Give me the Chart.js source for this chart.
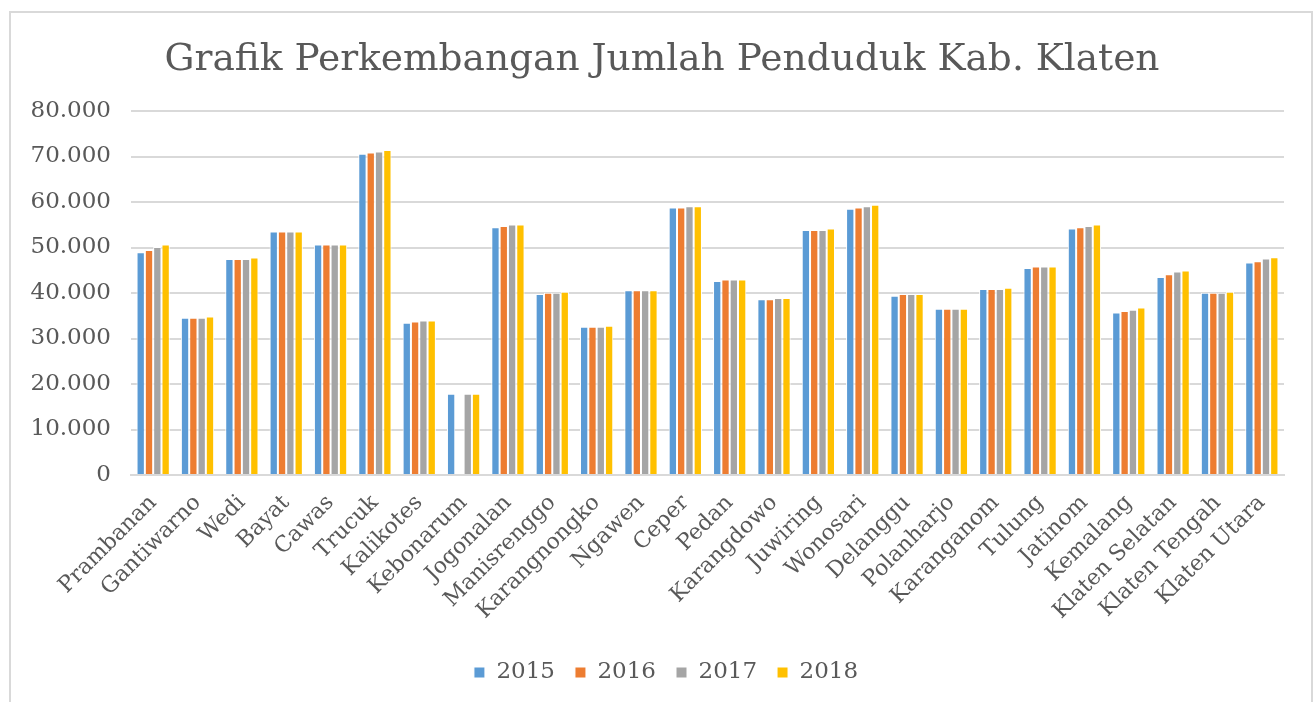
<!DOCTYPE html>
<html>
<head>
<meta charset="utf-8">
<script src="https://cdn.jsdelivr.net/npm/chart.js@4/dist/chart.umd.min.js"></script>
<style>
  body { margin: 0; background: #fff; }
  #wrap { width: 1315px; height: 702px; position: relative; }
</style>
</head>
<body>
<div id="wrap"><canvas id="chart"></canvas></div>
<script>
const kecamatan = ['Prambanan', 'Gantiwarno', 'Wedi', 'Bayat', 'Cawas', 'Trucuk', 'Kalikotes',
    'Kebonarum', 'Jogonalan', 'Manisrenggo', 'Karangnongko', 'Ngawen', 'Ceper', 'Pedan',
    'Karangdowo', 'Juwiring', 'Wonosari', 'Delanggu', 'Polanharjo', 'Karanganom', 'Tulung',
    'Jatinom', 'Kemalang', 'Klaten Selatan', 'Klaten Tengah', 'Klaten Utara'];

const pend2015 = [48950, 34570, 47490, 53500, 50640, 70600, 33470, 17830, 54460, 39780, 32590, 40590, 58790,
    42640, 38610, 53870, 58500, 39410, 36550, 40880, 45500, 54170, 35740, 43520, 40070, 46680];
const pend2016 = [49470, 34570, 47490, 53500, 50640, 70900, 33760, null, 54750, 40070, 32590, 40590, 58790,
    42940, 38610, 53870, 58790, 39780, 36550, 40880, 45800, 54460, 36040, 44110, 40070, 46970];
const pend2017 = [50130, 34570, 47490, 53500, 50640, 71120, 33980, 17830, 55050, 40070, 32590, 40590, 59080,
    42940, 38900, 53870, 59080, 39780, 36550, 40880, 45800, 54750, 36330, 44700, 40070, 47560];
const pend2018 = [50640, 34860, 47780, 53500, 50640, 71410, 33980, 17830, 55050, 40290, 32810, 40590, 59080,
    42940, 38900, 54170, 59380, 39780, 36550, 41170, 45800, 55050, 36840, 44920, 40290, 47850];

const yMax = 80000;
const yStep = 10000;

const fontFamily = '"DejaVu Serif", "Liberation Serif", serif';
const textColor = '#595959';

// thousands with a dot, like the original sheet
function formatRibuan(v) {
    return String(v).replace(/\B(?=(\d{3})+(?!\d))/g, '.');
}

// white background and the grey frame around the chart
const frame = {
    id: 'frame',
    afterLayout(chart) {
        // title and legend sit a bit right of the centre in the original
        chart.titleBlock.left += 20;
        chart.titleBlock.right += 20;
        chart.legend.left += 24;
        chart.legend.right += 24;
    },
    beforeDraw(chart) {
        const ctx = chart.ctx;
        ctx.save();
        ctx.fillStyle = '#fff';
        ctx.fillRect(0, 0, chart.width, chart.height);
        ctx.strokeStyle = '#d9d9d9';
        ctx.lineWidth = 2;
        ctx.strokeRect(10, 12, 1302, 700);
        ctx.restore();
    }
};

new Chart(document.getElementById('chart'), {
    type: 'bar',
    data: {
        labels: kecamatan,
        datasets: [
            { label: '2015', data: pend2015, backgroundColor: '#5B9BD5' },
            { label: '2016', data: pend2016, backgroundColor: '#ED7D31' },
            { label: '2017', data: pend2017, backgroundColor: '#A5A5A5' },
            { label: '2018', data: pend2018, backgroundColor: '#FFC000' }
        ].map(d => Object.assign(d, {
            borderColor: '#ffffff',
            borderWidth: 1,
            categoryPercentage: 0.75,
            barPercentage: 1
        }))
    },
    options: {
        responsive: true,
        maintainAspectRatio: false,
        animation: false,
        layout: { padding: { left: 0, right: 31, top: 0, bottom: 8 } },
        plugins: {
            title: {
                display: true,
                text: 'Grafik Perkembangan Jumlah Penduduk Kab. Klaten',
                color: textColor,
                font: { family: fontFamily, size: 37.5, weight: 'normal' },
                padding: { top: 38, bottom: 28 }
            },
            legend: {
                position: 'bottom',
                labels: {
                    color: textColor,
                    font: { family: fontFamily, size: 23 },
                    boxWidth: 11,
                    boxHeight: 11,
                    padding: 20
                }
            },
            tooltip: { enabled: false }
        },
        scales: {
            x: {
                grid: { display: false },
                border: { display: true, color: '#d9d9d9', width: 2 },
                ticks: {
                    color: textColor,
                    font: { family: fontFamily, size: 22 },
                    minRotation: 45,
                    maxRotation: 45,
                    autoSkip: false,
                    padding: 7
                },
                afterFit(scale) { scale.height = 166; }
            },
            y: {
                min: 0,
                max: yMax,
                grid: { color: '#d9d9d9', lineWidth: 2, drawTicks: false },
                border: { display: false },
                ticks: {
                    stepSize: yStep,
                    color: textColor,
                    font: { family: fontFamily, size: 23 },
                    padding: 20,
                    callback: v => formatRibuan(v)
                },
                afterFit(scale) { scale.width = 131; }
            }
        }
    },
    plugins: [frame]
});
</script>
</body>
</html>
